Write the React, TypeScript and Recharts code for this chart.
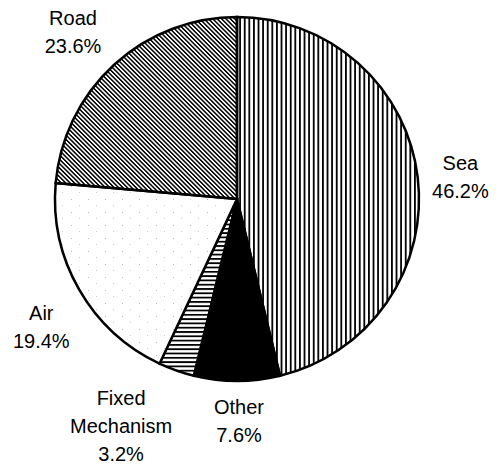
import { PieChart, Pie, Cell } from 'recharts';

// shares of freight by mode, clockwise from 12 o'clock
const modes = ['Sea', 'Other', 'Fixed Mechanism', 'Air', 'Road'];
const shares = [46.2, 7.6, 3.2, 19.4, 23.6];
const labelLines = [['Sea'], ['Other'], ['Fixed', 'Mechanism'], ['Air'], ['Road']];
const fills = ['url(#vert)', '#000', 'url(#horiz)', 'url(#dots)', 'url(#diag)'];

const data = modes.map((name, i) => ({ name, value: shares[i], lines: labelLines[i] }));

// hand nudges where the original label sits off the slice bisector
const nudge: Record<string, [number, number]> = {
  Sea: [-3, 5],
  Other: [2, -6],
  'Fixed Mechanism': [-40, 12],
  Air: [2, 14],
  Road: [-10, 1],
};

const RAD = Math.PI / 180;
const LINE_H = 28;

function renderLabel(props: any) {
  const { cx, cy, midAngle, outerRadius, payload, value } = props;
  const r = outerRadius + 46;
  const [nx, ny] = nudge[payload.name] ?? [0, 0];
  const x = cx + r * Math.cos(-midAngle * RAD) + nx;
  const y = cy + r * Math.sin(-midAngle * RAD) + ny;
  const lines: string[] = [...payload.lines, `${value}%`];
  const top = y - ((lines.length - 1) * LINE_H) / 2;
  return (
    <text
      x={x}
      y={top}
      textAnchor="middle"
      dominantBaseline="central"
      fontFamily="'Liberation Sans', Arial, sans-serif"
      fontSize={20}
      fill="#000"
    >
      {lines.map((l, i) => (
        <tspan key={i} x={x} y={top + i * LINE_H}>
          {l}
        </tspan>
      ))}
    </text>
  );
}

export default function App() {
  return (
    <div style={{ position: 'absolute', left: 0, top: 0, background: '#fff' }}>
      <PieChart width={502} height={464} margin={{ top: 0, right: 0, bottom: 0, left: 0 }}>
        <defs>
          <pattern id="vert" patternUnits="userSpaceOnUse" width={4.6} height={10}>
            <rect x={0} y={0} width={1.8} height={10} fill="#000" />
          </pattern>
          <pattern id="horiz" patternUnits="userSpaceOnUse" width={10} height={4.3}>
            <rect x={0} y={0} width={10} height={1.8} fill="#000" />
          </pattern>
          <pattern id="diag" patternUnits="userSpaceOnUse" width={3.1} height={10} patternTransform="rotate(-45)">
            <rect x={0} y={0} width={1.5} height={10} fill="#000" />
          </pattern>
          <pattern id="dots" patternUnits="userSpaceOnUse" width={17} height={13}>
            <rect x={0} y={0} width={17} height={13} fill="#fff" />
            <rect x={3} y={4} width={1} height={1} fill="#bbb" />
            <rect x={11} y={10} width={1} height={1} fill="#ccc" />
          </pattern>
        </defs>
        <Pie
          data={data}
          dataKey="value"
          nameKey="name"
          cx={237}
          cy={199}
          outerRadius={182}
          startAngle={90}
          endAngle={-270}
          stroke="#000"
          strokeWidth={2.5}
          labelLine={false}
          label={renderLabel}
          isAnimationActive={false}
        >
          {data.map((d, i) => (
            <Cell key={d.name} fill={fills[i]} />
          ))}
        </Pie>
      </PieChart>
    </div>
  );
}
